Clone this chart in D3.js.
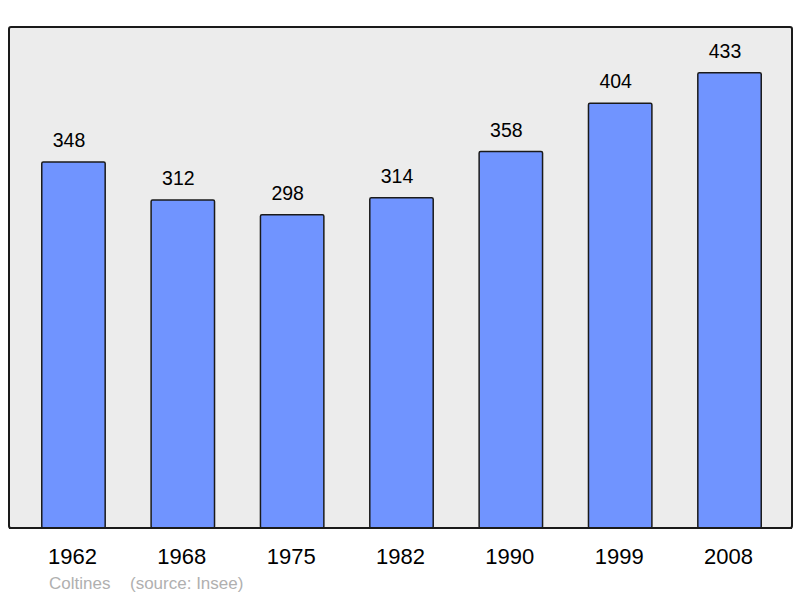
<!DOCTYPE html>
<html lang="en">
<head>
    <meta charset="utf-8">
    <script type="text/javascript" src="https://d3js.org/d3.v7.min.js"></script>
    <style>
        body { margin: 0; background: #fff; }
        text { font-family: "Liberation Sans", Arial, sans-serif; }
    </style>
</head>
<body>
    <script type="text/javascript">
        // Size
        let w = 800;
        let h = 598;

        // Data
        let years = ["1962", "1968", "1975", "1982", "1990", "1999", "2008"];
        let population = [348, 312, 298, 314, 358, 404, 433];
        let commune = "Coltines";
        let source = "(source: Insee)";

        let svg = d3.select("body").append("svg")
            .attr("width", w)
            .attr("height", h);

        // Plot frame
        let frame = { left: 9, top: 27, right: 792, bottom: 528 };

        svg.append("rect")
            .attr("x", frame.left)
            .attr("y", frame.top)
            .attr("width", frame.right - frame.left)
            .attr("height", frame.bottom - frame.top)
            .attr("rx", 2)
            .attr("fill", "#ececec")
            .attr("stroke", "#1a1a1a")
            .attr("stroke-width", 2);

        // Scales
        let x = d3.scaleBand()
            .domain(years)
            .range([18.8, 784.2])
            .paddingInner(0.42)
            .paddingOuter(0.21);

        let y = d3.scaleLinear()
            .domain([0, 476.5])
            .range([frame.bottom, frame.top]);

        // Bars
        svg.selectAll("rect.bar")
            .data(population)
            .join("rect")
                .attr("class", "bar")
                .attr("x", (d, i) => x(years[i]))
                .attr("y", d => y(d))
                .attr("width", x.bandwidth())
                .attr("height", d => frame.bottom - y(d))
                .attr("rx", 1.5)
                .attr("fill", "#7094ff")
                .attr("stroke", "#1a1a1a")
                .attr("stroke-width", 1.5);

        // Redraw bottom line over bars
        svg.append("line")
            .attr("x1", frame.left)
            .attr("x2", frame.right)
            .attr("y1", frame.bottom)
            .attr("y2", frame.bottom)
            .attr("stroke", "#1a1a1a")
            .attr("stroke-width", 2);

        // Value labels (sit a little left of the bar centre)
        svg.selectAll("text.value")
            .data(population)
            .join("text")
                .attr("class", "value")
                .text(d => d)
                .attr("x", (d, i) => x(years[i]) + x.bandwidth() / 2 - 4.5)
                .attr("y", d => y(d) - 15)
                .attr("text-anchor", "middle")
                .attr("fill", "#000")
                .attr("font-size", "19.5px");

        // Year labels
        svg.selectAll("text.year")
            .data(years)
            .join("text")
                .attr("class", "year")
                .text(d => d)
                .attr("x", d => x(d) + x.bandwidth() / 2 - 1)
                .attr("y", 564)
                .attr("text-anchor", "middle")
                .attr("fill", "#000")
                .attr("font-size", "22px");

        // Source line
        svg.append("text")
            .text(commune)
            .attr("x", 49)
            .attr("y", 589)
            .attr("fill", "#b0b0b0")
            .attr("font-size", "17px");

        svg.append("text")
            .text(source)
            .attr("x", 130)
            .attr("y", 589)
            .attr("fill", "#b0b0b0")
            .attr("font-size", "17px");
    </script>
</body>
</html>
